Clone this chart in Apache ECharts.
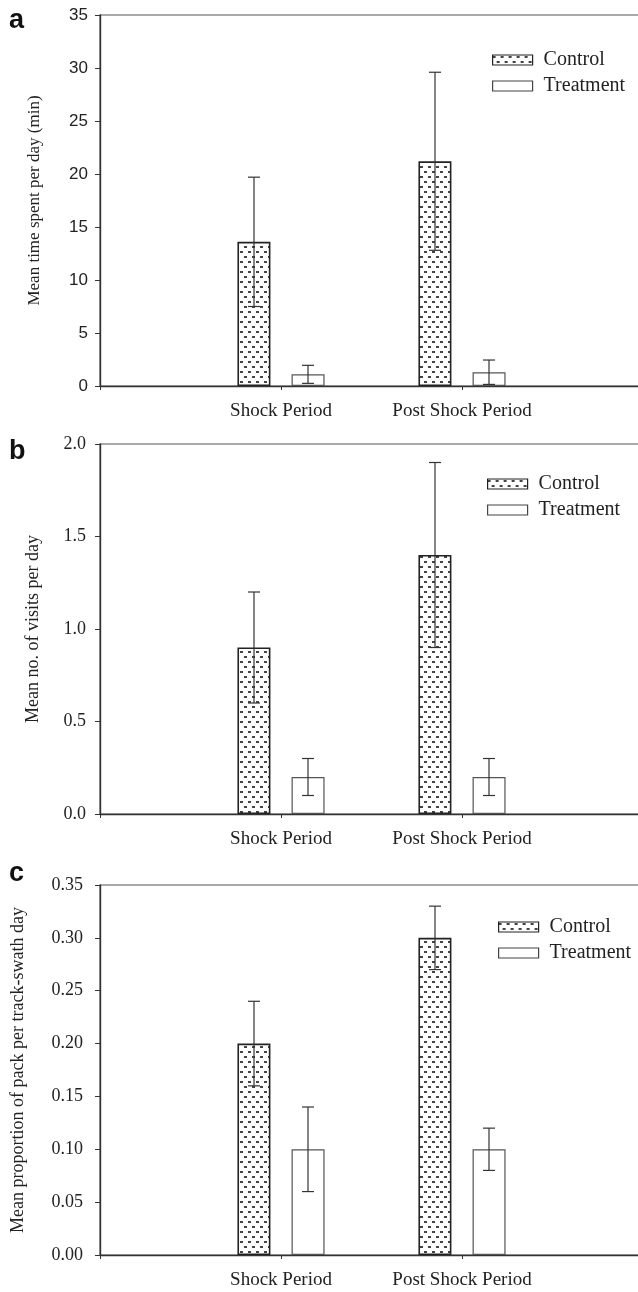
<!DOCTYPE html>
<html>
<head>
<meta charset="utf-8">
<script src="https://cdn.jsdelivr.net/npm/echarts@6/dist/echarts.min.js"></script>
<style>
  html, body { margin: 0; padding: 0; background: #fff; }
  #main { width: 638px; height: 1292px; }
</style>
</head>
<body>
<div id="main"></div>
<script>
// --- data ---
const categories = ['Shock Period', 'Post Shock Period'];
const groups = ['Control', 'Treatment'];

// a: mean time spent per day (min)
const timeControl = [13.6, 21.2];
const timeControlErr = [6.1, 8.4];
const timeTreatment = [1.1, 1.3];
const timeTreatmentErr = [0.85, 1.15];

// b: mean no. of visits per day
const visitsControl = [0.9, 1.4];
const visitsControlErr = [0.3, 0.5];
const visitsTreatment = [0.2, 0.2];
const visitsTreatmentErr = [0.1, 0.1];

// c: mean proportion of pack per track-swath day
const propControl = [0.2, 0.3];
const propControlErr = [0.04, 0.03];
const propTreatment = [0.1, 0.1];
const propTreatmentErr = [0.04, 0.02];

// y axis ticks per panel
const yMax = [35, 2.0, 0.35];
const yStep = [5, 0.5, 0.05];
const yDecimals = [0, 1, 2];

const panelLetters = ['a', 'b', 'c'];
const yNames = [
  'Mean time spent per day (min)',
  'Mean no. of visits per day',
  'Mean proportion of pack per track-swath day'
];

document.addEventListener('DOMContentLoaded', function () {
  const chart = echarts.init(document.getElementById('main'));

  // dotted fill used by the Control bars
  function dotPattern() {
    const c = document.createElement('canvas');
    c.width = 8; c.height = 10;
    const ctx = c.getContext('2d');
    ctx.fillStyle = '#fff';
    ctx.fillRect(0, 0, 8, 10);
    ctx.fillStyle = '#444';
    ctx.fillRect(0, 1, 3, 2);
    ctx.fillRect(4, 6, 3, 2);
    return c;
  }
  const pattern = { image: dotPattern(), repeat: 'repeat' };

  const SERIF = '"Liberation Serif", "Times New Roman", serif';
  const SANS = '"Liberation Sans", Arial, sans-serif';

  const panels = [
    { top: 15, height: 371, ctrl: timeControl, ctrlErr: timeControlErr, trt: timeTreatment, trtErr: timeTreatmentErr,
      labelFont: SANS, labelSize: 17, labelMargin: 12, nameSize: 17, nameGap: 57,
      legendLeft: 492, legendTop: 50, letterY: 7 },
    { top: 444, height: 370, ctrl: visitsControl, ctrlErr: visitsControlErr, trt: visitsTreatment, trtErr: visitsTreatmentErr,
      labelFont: SERIF, labelSize: 18, labelMargin: 14, nameSize: 18, nameGap: 58,
      legendLeft: 487, legendTop: 474, letterY: 438 },
    { top: 885, height: 370, ctrl: propControl, ctrlErr: propControlErr, trt: propTreatment, trtErr: propTreatmentErr,
      labelFont: SERIF, labelSize: 18, labelMargin: 17, nameSize: 18, nameGap: 73,
      legendLeft: 498, legendTop: 917, letterY: 860 }
  ];

  // axis with an empty slot at both ends so the two groups sit at 1/3 and 2/3
  const axisCats = [''].concat(categories, [' ']);
  const pad = arr => [null].concat(arr, [null]);

  function errorBars(offset) {
    return function (params, api) {
      const x = api.value(0);
      const hi = api.coord([x, api.value(1) + api.value(2)]);
      const lo = api.coord([x, api.value(1) - api.value(2)]);
      const cx = hi[0] + offset;
      const style = { stroke: '#333', lineWidth: 1.2 };
      return {
        type: 'group',
        children: [
          { type: 'line', shape: { x1: cx, y1: hi[1], x2: cx, y2: lo[1] }, style: style },
          { type: 'line', shape: { x1: cx - 6, y1: hi[1], x2: cx + 6, y2: hi[1] }, style: style },
          { type: 'line', shape: { x1: cx - 6, y1: lo[1], x2: cx + 6, y2: lo[1] }, style: style }
        ]
      };
    };
  }

  const grid = [], xAxis = [], yAxis = [], legend = [], series = [], graphic = [];

  panels.forEach(function (p, i) {
    // plot runs a little past the right edge of the page, like the original figure
    grid.push({
      left: 100, width: 543, top: p.top, height: p.height,
      outerBoundsMode: 'none', containLabel: false,
      show: true, borderColor: '#555', borderWidth: 1.2, backgroundColor: 'transparent'
    });
    xAxis.push({
      gridIndex: i, type: 'category', data: axisCats, boundaryGap: false,
      axisLine: { lineStyle: { color: '#333', width: 1.4 } },
      axisTick: { length: 4, lineStyle: { color: '#333' } },
      axisLabel: { interval: 0, color: '#222', fontFamily: SERIF, fontSize: 19, margin: 16 },
      splitLine: { show: false }
    });
    yAxis.push({
      gridIndex: i, type: 'value', min: 0, max: yMax[i], interval: yStep[i],
      name: yNames[i], nameLocation: 'middle', nameGap: p.nameGap,
      nameTextStyle: { fontFamily: SERIF, fontSize: p.nameSize, color: '#222' },
      axisLine: { show: true, lineStyle: { color: '#333', width: 1.4 } },
      axisTick: { show: true, length: 5, lineStyle: { color: '#333' } },
      axisLabel: {
        color: '#222', fontFamily: p.labelFont, fontSize: p.labelSize, margin: p.labelMargin,
        formatter: v => v.toFixed(yDecimals[i])
      },
      splitLine: { show: false }
    });
    legend.push({
      left: p.legendLeft, top: p.legendTop, orient: 'vertical', padding: 0,
      itemWidth: 40, itemHeight: 10, itemGap: 6, selectedMode: false,
      textStyle: { fontFamily: SERIF, fontSize: 20, color: '#222', lineHeight: 20, padding: [0, 0, 0, 6] },
      data: [
        { name: groups[0], icon: 'rect', itemStyle: { color: pattern, borderColor: '#222', borderWidth: 1.2 } },
        { name: groups[1], icon: 'rect', itemStyle: { color: '#fff', borderColor: '#444', borderWidth: 1.2 } }
      ]
    });
    series.push({
      name: groups[0], type: 'bar', xAxisIndex: i, yAxisIndex: i,
      data: pad(p.ctrl), barWidth: 33, barGap: '64%',
      itemStyle: { color: pattern, borderColor: '#222', borderWidth: 1.6 }
    });
    series.push({
      name: groups[1], type: 'bar', xAxisIndex: i, yAxisIndex: i,
      data: pad(p.trt), barWidth: 33, barGap: '64%',
      itemStyle: { color: '#fff', borderColor: '#555', borderWidth: 1.2 }
    });
    series.push({
      type: 'custom', xAxisIndex: i, yAxisIndex: i, z: 5,
      renderItem: errorBars(-27),
      data: p.ctrl.map((v, k) => [k + 1, v, p.ctrlErr[k]])
    });
    series.push({
      type: 'custom', xAxisIndex: i, yAxisIndex: i, z: 5,
      renderItem: errorBars(27),
      data: p.trt.map((v, k) => [k + 1, v, p.trtErr[k]])
    });
    graphic.push({
      type: 'text', left: 9, top: p.letterY,
      style: { text: panelLetters[i], font: 'bold 27px ' + SANS, fill: '#111' }
    });
  });

  chart.setOption({
    animation: false,
    backgroundColor: '#fff',
    grid: grid,
    xAxis: xAxis,
    yAxis: yAxis,
    legend: legend,
    graphic: graphic,
    series: series
  });

  window.addEventListener('resize', function () { chart.resize(); });
});
</script>
</body>
</html>
